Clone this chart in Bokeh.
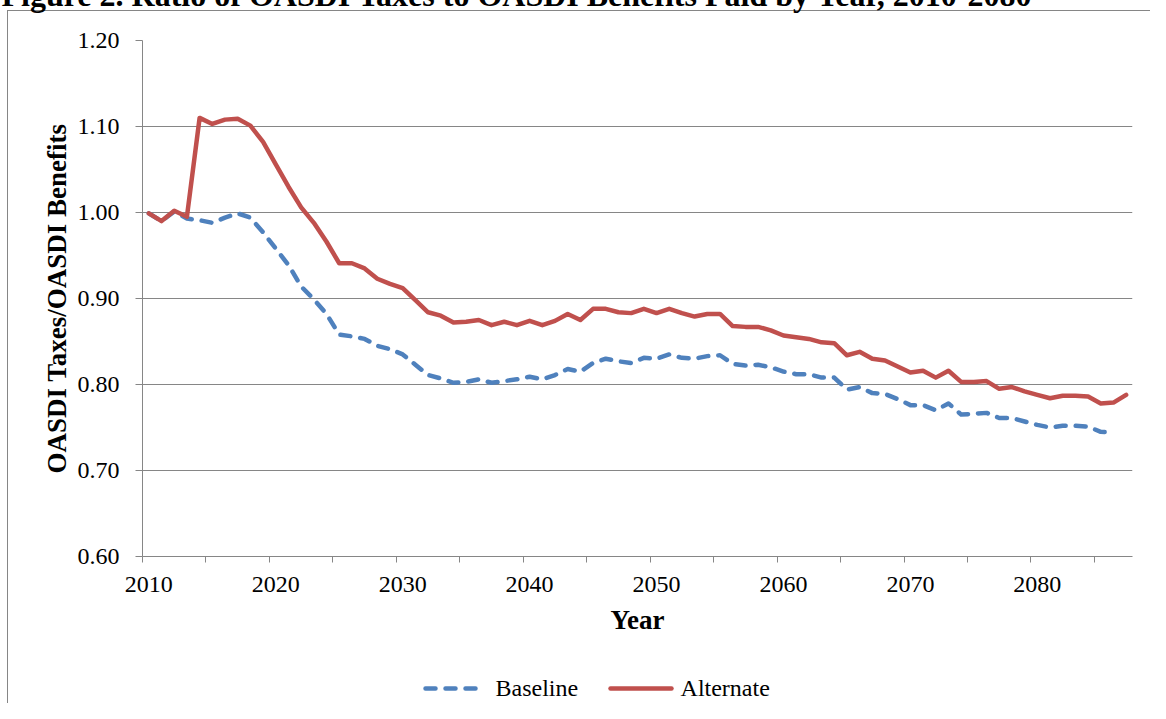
from bokeh.plotting import figure
from bokeh.models import Range1d, FixedTicker, PrintfTickFormatter, LinearAxis
from bokeh.embed import file_html
from bokeh.resources import INLINE

# ---------------- data ----------------
years_alternate = list(range(2010, 2088))
years_baseline = list(range(2010, 2087))

alternate = [0.999, 0.990, 1.002, 0.995, 1.110, 1.103, 1.108, 1.109, 1.101, 1.082,
             1.056, 1.030, 1.006, 0.988, 0.966, 0.941, 0.941, 0.935, 0.923, 0.917,
             0.912, 0.898, 0.884, 0.880, 0.872, 0.873, 0.875, 0.869, 0.873, 0.869,
             0.874, 0.869, 0.874, 0.882, 0.875, 0.888, 0.888, 0.884, 0.883, 0.888,
             0.883, 0.888, 0.883, 0.879, 0.882, 0.882, 0.868, 0.867, 0.867, 0.863,
             0.857, 0.855, 0.853, 0.849, 0.848, 0.834, 0.838, 0.830, 0.828, 0.821,
             0.814, 0.816, 0.808, 0.816, 0.803, 0.803, 0.804, 0.795, 0.797, 0.792,
             0.788, 0.784, 0.787, 0.787, 0.786, 0.778, 0.779, 0.788]

baseline = [0.999, 0.990, 1.001, 0.993, 0.991, 0.988, 0.994, 0.999, 0.994, 0.977,
            0.958, 0.939, 0.914, 0.899, 0.882, 0.858, 0.856, 0.853, 0.845, 0.841,
            0.835, 0.823, 0.811, 0.807, 0.802, 0.803, 0.806, 0.802, 0.804, 0.806,
            0.809, 0.806, 0.811, 0.818, 0.815, 0.825, 0.830, 0.827, 0.825, 0.831,
            0.830, 0.835, 0.831, 0.830, 0.833, 0.834, 0.824, 0.822, 0.823, 0.820,
            0.815, 0.812, 0.812, 0.808, 0.808, 0.794, 0.797, 0.790, 0.789, 0.783,
            0.776, 0.776, 0.770, 0.778, 0.765, 0.766, 0.767, 0.761, 0.761, 0.757,
            0.753, 0.750, 0.752, 0.752, 0.751, 0.745, 0.744]

y_ticks = [0.60, 0.70, 0.80, 0.90, 1.00, 1.10, 1.20]
x_label_years = [2010, 2020, 2030, 2040, 2050, 2060, 2070, 2080]
x_tick_marks = [2009.5, 2014.5, 2019.5, 2024.5, 2029.5, 2034.5, 2039.5, 2044.5,
                2049.5, 2054.5, 2059.5, 2064.5, 2069.5, 2074.5, 2079.5, 2084.5]

title_text = "Figure 2. Ratio of OASDI Taxes to OASDI Benefits Paid by Year, 2010-2080"
x_title = "Year"
y_title = "OASDI Taxes/OASDI Benefits"
series_names = ["Baseline", "Alternate"]

FONT = "Liberation Serif"
GRAY = "#868686"
BLUE = "#4F81BD"
RED = "#C0504D"

# legend layout (positions along the x scale of the key below the chart)
key_sample_spans = [(2031.82, 2035.95), (2046.40, 2051.16)]
key_label_pos = [2040.57, 2055.41]

p = figure(width=1158, height=711, output_backend="svg", toolbar_location=None,
           x_range=Range1d(2009.5, 2087.5), y_range=Range1d(0.6, 1.2),
           min_border_left=150, min_border_right=18, min_border_top=44,
           min_border_bottom=142)
p.margin = (-8, 0, 0, -8)
# chart-area border (left and top edge) drawn as background of the figure element
p.styles = {"background": ("linear-gradient(#868686,#868686) 15px 18px / 1px 2000px no-repeat, "
                           "linear-gradient(#868686,#868686) 15px 18px / 3000px 1px no-repeat, "
                           "white")}
p.border_fill_alpha = 0
p.background_fill_color = "white"
p.outline_line_color = None

# main axes (grab them before any extra axis is added)
xax = p.below[0]
yax = p.left[0]


def blank_axis(**kw):
    ax = LinearAxis(axis_line_color=None, major_tick_line_color=None,
                    minor_tick_line_color=None, major_tick_out=0, major_tick_in=0,
                    minor_tick_out=0, minor_tick_in=0, major_label_standoff=0)
    for k, v in kw.items():
        setattr(ax, k, v)
    return ax


# spacer between frame and title (keeps the title partly above the window)
top_spacer = blank_axis(ticker=FixedTicker(ticks=[2050]),
                        major_label_overrides={2050: " "},
                        major_label_text_font=FONT, major_label_text_font_size="24px",
                        major_label_standoff=12)
p.add_layout(top_spacer, "above")

# title
p.title.text = title_text
p.title.text_font = FONT
p.title.text_font_style = "bold"
p.title.text_font_size = "32px"
p.title.text_color = "black"
p.title.align = "left"
p.title.vertical_align = "top"
p.title.offset = -141
p.title.standoff = -31

# lines
p.line(years_baseline, baseline, line_color=BLUE, line_width=4.5,
       line_dash="10 10", line_cap="round", line_join="round")
p.line(years_alternate, alternate, line_color=RED, line_width=4.5,
       line_cap="round", line_join="round")

# y axis
yax.ticker = FixedTicker(ticks=y_ticks)
yax.formatter = PrintfTickFormatter(format="%.2f")
yax.axis_line_color = GRAY
yax.major_tick_line_color = GRAY
yax.major_tick_out = 7
yax.major_tick_in = 0
yax.minor_tick_line_color = None
yax.major_label_text_font = FONT
yax.major_label_text_font_size = "24px"
yax.major_label_text_color = "black"
yax.major_label_standoff = 16
yax.axis_label = y_title
yax.axis_label_text_font = FONT
yax.axis_label_text_font_style = "bold"
yax.axis_label_text_font_size = "27px"
yax.axis_label_text_color = "black"
yax.axis_label_standoff = 3

# x axis
xax.ticker = FixedTicker(ticks=x_label_years, minor_ticks=x_tick_marks)
xax.formatter = PrintfTickFormatter(format="%d")
xax.axis_line_color = GRAY
xax.major_tick_line_color = None
xax.major_tick_out = 0
xax.major_tick_in = 0
xax.minor_tick_line_color = GRAY
xax.minor_tick_out = 6
xax.minor_tick_in = 0
xax.major_label_text_font = FONT
xax.major_label_text_font_size = "24px"
xax.major_label_text_color = "black"
xax.major_label_standoff = 14
xax.axis_label = x_title
xax.axis_label_text_font = FONT
xax.axis_label_text_font_style = "bold"
xax.axis_label_text_font_size = "27px"
xax.axis_label_text_color = "black"
xax.axis_label_standoff = 10

# grid
p.xgrid.grid_line_color = None
p.ygrid.ticker = FixedTicker(ticks=y_ticks)
p.ygrid.grid_line_color = GRAY
p.ygrid.grid_line_width = 1

# ---- key below the chart (built from axes so it is not clipped) ----
bottom_spacer = blank_axis(ticker=FixedTicker(ticks=[2050]),
                           major_label_overrides={2050: " "},
                           major_label_text_font=FONT, major_label_text_font_size="24px",
                           major_label_standoff=22)
p.add_layout(bottom_spacer, "below")

key_base = blank_axis(ticker=FixedTicker(ticks=[]), bounds=key_sample_spans[0],
                      axis_line_color=BLUE, axis_line_width=4.5,
                      axis_line_dash="10 10", axis_line_cap="round")
p.add_layout(key_base, "below")

key_alt = blank_axis(ticker=FixedTicker(ticks=[]), bounds=key_sample_spans[1],
                     axis_line_color=RED, axis_line_width=4.5, axis_line_cap="round")
p.add_layout(key_alt, "below")

key_labels = blank_axis(ticker=FixedTicker(ticks=key_label_pos),
                        major_label_overrides={key_label_pos[0]: series_names[0],
                                               key_label_pos[1]: series_names[1]},
                        major_label_text_font=FONT, major_label_text_font_size="24px",
                        major_label_text_color="black", major_label_standoff=-14)
p.add_layout(key_labels, "below")

open("out.html", "w").write(file_html(p, INLINE))
